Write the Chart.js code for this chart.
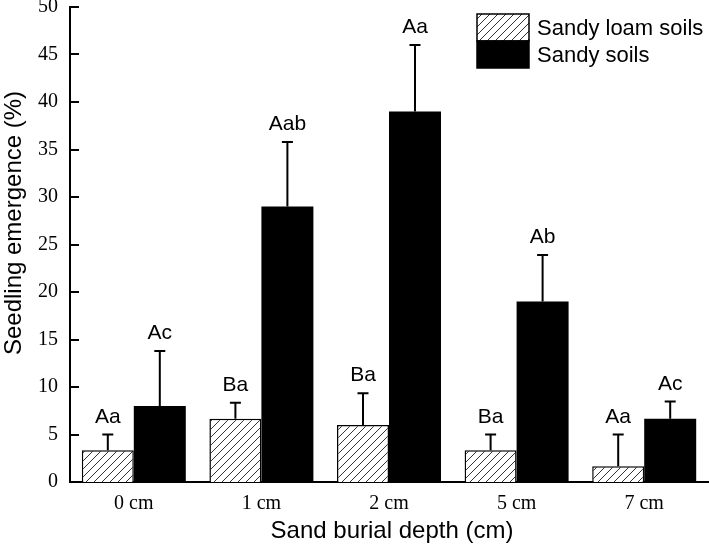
<!DOCTYPE html>
<html lang="en">
<head>
<meta charset="UTF-8">
<title>Seedling emergence</title>
<script src="https://cdn.jsdelivr.net/npm/chart.js"></script>
<style>
    body { margin: 0; background: #fff; }
    .wrap { width: 709px; height: 544px; }
</style>
</head>
<body>
<div class="wrap"><canvas id="chart" width="709" height="544"></canvas></div>
<script>
// --- data ---
const categories = ['0 cm', '1 cm', '2 cm', '5 cm', '7 cm'];
const seriesNames = ['Sandy loam soils', 'Sandy soils'];
const loamValues = [3.33, 6.67, 6.0, 3.33, 1.67];
const loamErrors = [1.67, 1.67, 3.33, 1.67, 3.33];
const sandyValues = [8.0, 29.0, 39.0, 19.0, 6.67];
const sandyErrors = [5.8, 6.8, 7.0, 4.9, 1.8];
const loamLetters = ['Aa', 'Ba', 'Ba', 'Ba', 'Aa'];
const sandyLetters = ['Ac', 'Aab', 'Aa', 'Ab', 'Ac'];
const yMin = 0, yMax = 50, yStep = 5;
const xTitle = 'Sand burial depth (cm)';
const yTitle = 'Seedling emergence (%)';

const SANS = "'Liberation Sans', Arial, sans-serif";
const SERIF = "'Liberation Serif', 'Times New Roman', serif";

// diagonal hatch for the sandy loam bars
function makeHatch() {
    const c = document.createElement('canvas');
    c.width = 8; c.height = 8;
    const g = c.getContext('2d');
    g.fillStyle = '#fff';
    g.fillRect(0, 0, 8, 8);
    g.strokeStyle = '#333';
    g.lineWidth = 1;
    g.beginPath();
    g.moveTo(0, 8); g.lineTo(8, 0);
    g.moveTo(-1, 1); g.lineTo(1, -1);
    g.moveTo(7, 9); g.lineTo(9, 7);
    g.stroke();
    return g.createPattern(c, 'repeat');
}
const hatch = makeHatch();

const errorSets = [loamErrors, sandyErrors];
const letterSets = [loamLetters, sandyLetters];

// error bars + significance letters
const errorBars = {
    id: 'errorBars',
    afterDatasetsDraw(chart) {
        const ctx = chart.ctx;
        const y = chart.scales.y;
        ctx.save();
        ctx.strokeStyle = '#000';
        ctx.lineWidth = 2;
        ctx.fillStyle = '#000';
        ctx.font = '21px ' + SANS;
        ctx.textAlign = 'center';
        ctx.textBaseline = 'alphabetic';
        chart.data.datasets.forEach((ds, i) => {
            const meta = chart.getDatasetMeta(i);
            meta.data.forEach((bar, j) => {
                const top = y.getPixelForValue(ds.data[j]);
                const cap = y.getPixelForValue(ds.data[j] + errorSets[i][j]);
                ctx.beginPath();
                ctx.moveTo(bar.x, top);
                ctx.lineTo(bar.x, cap);
                ctx.moveTo(bar.x - 5.5, cap);
                ctx.lineTo(bar.x + 5.5, cap);
                ctx.stroke();
                ctx.fillText(letterSets[i][j], bar.x, cap - 12);
            });
        });
        ctx.restore();
    }
};

// inward y ticks, axis titles, legend
const decorations = {
    id: 'decorations',
    afterDraw(chart) {
        const ctx = chart.ctx;
        const area = chart.chartArea;
        const y = chart.scales.y;
        ctx.save();
        ctx.strokeStyle = '#000';
        ctx.lineWidth = 2;
        y.ticks.forEach(t => {
            const py = Math.round(y.getPixelForValue(t.value));
            ctx.beginPath();
            ctx.moveTo(area.left, py);
            ctx.lineTo(area.left + 9, py);
            ctx.stroke();
        });

        ctx.fillStyle = '#000';
        ctx.font = '24px ' + SANS;
        ctx.textAlign = 'center';
        ctx.textBaseline = 'alphabetic';
        ctx.fillText(xTitle, 392, 538);

        ctx.save();
        ctx.translate(21, 223);
        ctx.rotate(-Math.PI / 2);
        ctx.fillText(yTitle, 0, 0);
        ctx.restore();

        // legend
        const boxX = 477, boxW = 52, boxH = 27;
        ctx.font = '22px ' + SANS;
        ctx.textAlign = 'left';
        ctx.textBaseline = 'middle';
        chart.data.datasets.forEach((ds, i) => {
            const by = 14 + i * boxH;
            ctx.fillStyle = ds.backgroundColor;
            ctx.fillRect(boxX, by, boxW, boxH);
            ctx.lineWidth = 1.5;
            ctx.strokeStyle = '#000';
            ctx.strokeRect(boxX, by, boxW, boxH);
            ctx.fillStyle = '#000';
            ctx.fillText(ds.label, boxX + 60, by + boxH / 2 + 1);
        });
        ctx.restore();
    }
};

const ctx = document.getElementById('chart').getContext('2d');
new Chart(ctx, {
    type: 'bar',
    data: {
        labels: categories,
        datasets: [
            {
                label: seriesNames[0],
                data: loamValues,
                backgroundColor: hatch,
                borderColor: '#000',
                borderWidth: 1.5,
                categoryPercentage: 0.815,
                barPercentage: 1.0
            },
            {
                label: seriesNames[1],
                data: sandyValues,
                backgroundColor: '#000',
                borderColor: '#000',
                borderWidth: 0,
                categoryPercentage: 0.815,
                barPercentage: 1.0
            }
        ]
    },
    options: {
        responsive: false,
        animation: false,
        layout: { padding: { top: 7, right: 1, left: 0, bottom: 0 } },
        plugins: {
            legend: { display: false },
            tooltip: { enabled: false }
        },
        scales: {
            x: {
                grid: { display: false, drawTicks: false },
                border: { display: true, color: '#000', width: 2 },
                ticks: {
                    color: '#000',
                    font: { family: SERIF, size: 20 },
                    padding: 10,
                    maxRotation: 0
                },
                afterFit: s => { s.height = 62; s.paddingLeft = 0; s.paddingRight = 0; }
            },
            y: {
                min: yMin,
                max: yMax,
                grid: { display: false, drawTicks: false },
                border: { display: true, color: '#000', width: 2 },
                ticks: {
                    stepSize: yStep,
                    color: '#000',
                    font: { family: SERIF, size: 20 },
                    padding: 12
                },
                afterFit: s => { s.width = 70; s.paddingTop = 0; s.paddingBottom = 0; }
            }
        }
    },
    plugins: [errorBars, decorations]
});
</script>
</body>
</html>
